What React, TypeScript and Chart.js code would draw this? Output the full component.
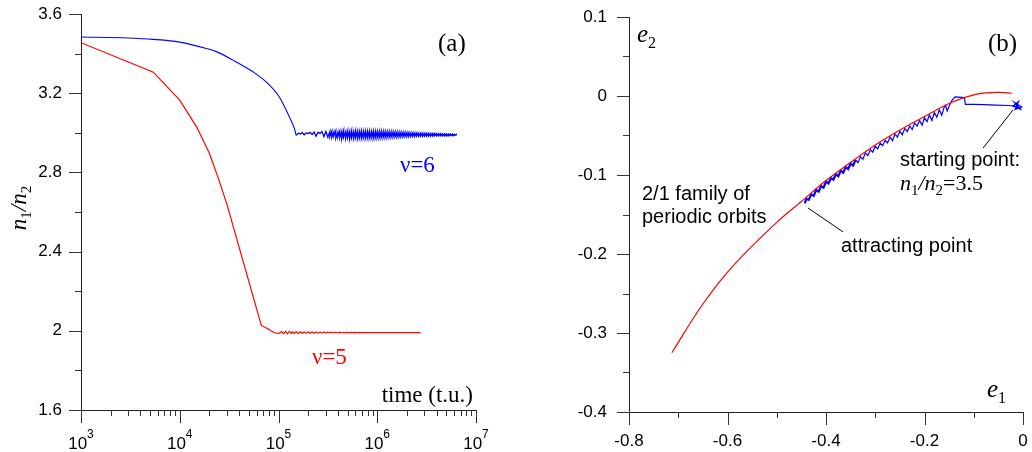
import React, { useEffect, useRef } from "react";
import { Chart, registerables } from "chart.js";

Chart.register(...registerables);

// ---------------- Panel (a): n1/n2 versus time ----------------
// ν=6 : smooth decay
const nu6DecayTime = [1e3, 3e3, 5.4e3, 1e4, 1.86e4, 2.35e4, 3.46e4, 5.5e4, 7.5e4, 1.02e5, 1.29e5, 1.45e5, 1.51e5];
const nu6DecayRatio = [3.484, 3.479, 3.472, 3.458, 3.426, 3.41, 3.367, 3.308, 3.257, 3.181, 3.08, 3.021, 2.987];
// ν=6 : first sparse wiggles
const nu6WiggleTime = [
  1.51e5, 1.585e5, 1.66e5, 1.738e5, 1.82e5, 1.905e5, 1.995e5, 2.089e5, 2.188e5, 2.291e5,
  2.399e5, 2.512e5, 2.63e5, 2.754e5, 2.884e5, 3.02e5, 3.162e5,
];
const nu6WiggleRatio = [
  2.987, 2.998, 2.994, 3.001, 2.99, 2.999, 2.996, 3.002, 2.991, 3.004,
  2.983, 3.003, 2.997, 3.006, 2.98, 3.007, 2.978,
];
// ν=6 : dense oscillation band (upper / lower excursions)
const nu6BandTime = [
  3.311e5, 3.467e5, 3.631e5, 3.802e5, 3.981e5, 4.169e5, 4.365e5, 4.571e5, 4.786e5, 5.012e5,
  5.248e5, 5.495e5, 5.754e5, 6.026e5, 6.31e5, 6.607e5, 6.918e5, 7.244e5, 7.586e5, 7.943e5,
  8.318e5, 8.71e5, 9.12e5, 9.55e5, 1e6, 1.047e6, 1.096e6, 1.148e6, 1.202e6, 1.259e6,
  1.318e6, 1.38e6, 1.445e6, 1.514e6, 1.585e6, 1.66e6, 1.738e6, 1.82e6, 1.905e6, 1.995e6,
  2.089e6, 2.188e6, 2.291e6, 2.399e6, 2.512e6, 2.63e6, 2.754e6, 2.884e6, 3.02e6, 3.162e6,
  3.311e6, 3.467e6, 3.631e6, 3.802e6, 3.981e6, 4.169e6, 4.365e6, 4.571e6, 4.786e6, 5.012e6,
  5.248e6, 5.495e6, 5.754e6, 6.026e6, 6.31e6,
];
const nu6BandHigh = [
  3.006, 3.009, 3.004, 3.01, 3.002, 3.009, 3.006, 3.011, 3.005, 3.009,
  3.007, 3.01, 3.006, 3.009, 3.008, 3.007, 3.009, 3.006, 3.008, 3.007,
  3.008, 3.006, 3.008, 3.007, 3.007, 3.006, 3.007, 3.006, 3.006, 3.005,
  3.006, 3.005, 3.005, 3.004, 3.004, 3.003, 3.003, 3.002, 3.002, 3.001,
  3.001, 3.0, 3.0, 2.999, 2.999, 2.998, 2.998, 2.998, 2.997, 2.997,
  2.997, 2.996, 2.996, 2.996, 2.995, 2.995, 2.995, 2.994, 2.994, 2.994,
  2.993, 2.993, 2.993, 2.992, 2.992,
];
const nu6BandLow = [
  2.98, 2.976, 2.983, 2.972, 2.979, 2.974, 2.97, 2.977, 2.972, 2.975,
  2.969, 2.974, 2.972, 2.975, 2.971, 2.974, 2.972, 2.975, 2.973, 2.974,
  2.973, 2.975, 2.973, 2.974, 2.974, 2.975, 2.975, 2.976, 2.976, 2.977,
  2.977, 2.978, 2.978, 2.979, 2.979, 2.98, 2.98, 2.98, 2.981, 2.981,
  2.981, 2.982, 2.982, 2.982, 2.983, 2.983, 2.983, 2.983, 2.984, 2.984,
  2.984, 2.984, 2.984, 2.985, 2.985, 2.985, 2.985, 2.985, 2.985, 2.985,
  2.985, 2.986, 2.986, 2.986, 2.986,
];

// ν=5
const nu5Time = [
  1e3, 5.4e3, 1e4, 1.48e4, 2e4, 2.5e4, 3e4, 6.7e4, 7.8e4, 9.1e4,
  1e5, 1.047e5, 1.072e5, 1.12e5, 1.148e5, 1.175e5, 1.23e5, 1.259e5, 1.29e5, 1.35e5,
  1.38e5, 1.445e5, 1.51e5, 1.585e5, 1.66e5, 1.738e5, 1.82e5, 1.905e5, 1.995e5, 2.089e5,
  2.188e5, 2.291e5, 2.399e5, 2.512e5, 2.63e5, 2.754e5, 2.884e5, 3.02e5, 3.162e5, 3.311e5,
  3.467e5, 3.631e5, 3.802e5, 3.981e5, 4.169e5, 4.365e5, 4.571e5, 4.786e5, 5.012e5, 5.248e5,
  5.495e5, 5.754e5, 6.026e5, 6.31e5, 6.607e5, 6.918e5, 7.244e5, 7.586e5, 2.75e6,
];
const nu5Ratio = [
  3.455, 3.306, 3.165, 3.03, 2.895, 2.76, 2.64, 2.027, 2.01, 1.99,
  1.987, 1.99, 1.997, 1.986, 1.99, 1.998, 1.985, 1.992, 1.997, 1.986,
  1.995, 1.987, 1.996, 1.987, 1.995, 1.988, 1.994, 1.987, 1.995, 1.988,
  1.994, 1.988, 1.994, 1.988, 1.993, 1.988, 1.994, 1.989, 1.993, 1.989,
  1.993, 1.989, 1.993, 1.989, 1.993, 1.989, 1.992, 1.99, 1.992, 1.99,
  1.992, 1.99, 1.992, 1.99, 1.992, 1.99, 1.992, 1.991, 1.991,
];

const aXMajor = [1e3, 1e4, 1e5, 1e6, 1e7];
const aXMinor = [
  2e3, 3e3, 4e3, 5e3, 6e3, 7e3, 8e3, 9e3,
  2e4, 3e4, 4e4, 5e4, 6e4, 7e4, 8e4, 9e4,
  2e5, 3e5, 4e5, 5e5, 6e5, 7e5, 8e5, 9e5,
  2e6, 3e6, 4e6, 5e6, 6e6, 7e6, 8e6, 9e6,
];
const aYMajor = [1.6, 2.0, 2.4, 2.8, 3.2, 3.6];
const aYMinor = [1.8, 2.2, 2.6, 3.0, 3.4];

// ---------------- Panel (b): e1-e2 plane ----------------
const familyE1 = [-0.713, -0.656, -0.602, -0.5, -0.45, -0.4, -0.35, -0.3, -0.25, -0.2, -0.15, -0.1, -0.05, -0.023];
const familyE2 = [-0.325, -0.2687, -0.2245, -0.16, -0.1335, -0.107, -0.084, -0.062, -0.043, -0.026, -0.0095, 0.0015, 0.0045, 0.0035];

const trajE1 = [
  -0.012, -0.004, -0.018, -0.002, -0.016, -0.009, -0.021, -0.006, -0.014, -0.01,
  -0.03, -0.055, -0.08, -0.1, -0.117, -0.119, -0.138, -0.145, -0.15, -0.154,
  -0.157, -0.16, -0.165, -0.17, -0.175, -0.18, -0.185, -0.19, -0.195, -0.2,
  -0.205, -0.21, -0.215, -0.22, -0.225, -0.23, -0.235, -0.24, -0.245, -0.25,
  -0.255, -0.26, -0.265, -0.27, -0.275, -0.28, -0.285, -0.29, -0.295, -0.3,
  -0.305, -0.31, -0.315, -0.32, -0.325, -0.33, -0.335, -0.34, -0.345, -0.35,
  -0.355, -0.36, -0.365, -0.37, -0.375, -0.38, -0.385, -0.39, -0.395, -0.4,
  -0.405, -0.41, -0.415, -0.42, -0.425, -0.43, -0.435, -0.44, -0.443,
];
const trajE2 = [
  -0.012, -0.018, -0.008, -0.014, -0.017, -0.007, -0.013, -0.016, -0.01, -0.013,
  -0.012, -0.0115, -0.011, -0.0105, -0.0105, -0.002, -0.001, -0.006, -0.013, -0.019,
  -0.012, -0.014, -0.0245, -0.0175, -0.027, -0.021, -0.031, -0.024, -0.0325, -0.0275,
  -0.037, -0.031, -0.038, -0.034, -0.0425, -0.038, -0.045, -0.041, -0.049, -0.0445,
  -0.052, -0.048, -0.0565, -0.052, -0.0595, -0.056, -0.063, -0.0595, -0.067, -0.0635,
  -0.071, -0.068, -0.0755, -0.072, -0.08, -0.077, -0.0845, -0.081, -0.088, -0.0855,
  -0.0925, -0.09, -0.097, -0.0945, -0.1015, -0.099, -0.106, -0.104, -0.1105, -0.1085,
  -0.116, -0.114, -0.121, -0.119, -0.1265, -0.1245, -0.1315, -0.13, -0.136,
];

const startPointerE1 = [-0.0203, -0.081];
const startPointerE2 = [-0.0177, -0.0658];
const attractPointerE1 = [-0.4365, -0.3655];
const attractPointerE2 = [-0.1418, -0.172];

const bXMajor = [-0.8, -0.6, -0.4, -0.2, 0];
const bXMinor = [-0.7, -0.5, -0.3, -0.1];
const bYMajor = [-0.4, -0.3, -0.2, -0.1, 0, 0.1];
const bYMinor = [-0.35, -0.25, -0.15, -0.05, 0.05];

// ---------------- helpers ----------------
const SANS = "'Liberation Sans', Arial, sans-serif";
const SERIF = "'Liberation Serif', 'Times New Roman', serif";
const RED = "rgb(255,0,0)";
const BLUE = "rgb(0,0,255)";

type Part = { text: string; font: string; dy?: number };

function partsWidth(ctx: CanvasRenderingContext2D, parts: Part[]) {
  let w = 0;
  for (const p of parts) {
    ctx.font = p.font;
    w += ctx.measureText(p.text).width;
  }
  return w;
}

function drawParts(ctx: CanvasRenderingContext2D, parts: Part[], x: number, y: number) {
  let cx = x;
  ctx.textAlign = "left";
  ctx.textBaseline = "alphabetic";
  for (const p of parts) {
    ctx.font = p.font;
    ctx.fillText(p.text, cx, y + (p.dy || 0));
    cx += ctx.measureText(p.text).width;
  }
}

function drawTicks(ctx: CanvasRenderingContext2D, chart: any, major: number[], minor: number[], axis: "x" | "y", majorLen: number, minorLen: number) {
  const area = chart.chartArea;
  const scale = chart.scales[axis];
  ctx.save();
  ctx.strokeStyle = "#333";
  ctx.lineWidth = 1;
  ctx.beginPath();
  const put = (v: number, len: number) => {
    const p = Math.round(scale.getPixelForValue(v)) + 0.5;
    if (axis === "x") {
      ctx.moveTo(p, area.bottom);
      ctx.lineTo(p, area.bottom + len);
    } else {
      ctx.moveTo(area.left, p);
      ctx.lineTo(area.left - len, p);
    }
  };
  major.forEach((v) => put(v, majorLen));
  minor.forEach((v) => put(v, minorLen));
  ctx.stroke();
  ctx.restore();
}

function fmt1(v: number) {
  const r = Math.round(v * 10) / 10;
  return r === 0 ? "0" : String(r);
}

function pairs(xs: number[], ys: number[]) {
  return xs.map((x, i) => ({ x, y: ys[i] }));
}

function bandPairs(ts: number[], hi: number[], lo: number[]) {
  const out: { x: number; y: number }[] = [];
  ts.forEach((t, i) => {
    out.push({ x: t, y: hi[i] });
    out.push({ x: t, y: lo[i] });
  });
  return out;
}

// invisible tick marks used only to offset the labels from the axis line
const offsetGrid = (len: number) => ({
  display: true,
  drawOnChartArea: false,
  drawTicks: true,
  tickLength: len,
  color: "rgba(0,0,0,0)",
});

export default function App() {
  const refA = useRef<HTMLCanvasElement>(null);
  const refB = useRef<HTMLCanvasElement>(null);

  useEffect(() => {
    const overlayA = {
      id: "overlayA",
      afterDraw(chart: any) {
        const ctx: CanvasRenderingContext2D = chart.ctx;
        drawTicks(ctx, chart, aXMajor, aXMinor, "x", 13, 6);
        drawTicks(ctx, chart, aYMajor, aYMinor, "y", 12, 6);
        ctx.save();
        ctx.fillStyle = "#000";
        const xs = chart.scales.x;
        aXMajor.forEach((v) => {
          const px = xs.getPixelForValue(v);
          const parts: Part[] = [
            { text: "10", font: `17px ${SANS}` },
            { text: String(Math.round(Math.log10(v))), font: `12px ${SANS}`, dy: -11 },
          ];
          const w = partsWidth(ctx, parts);
          drawParts(ctx, parts, px - w / 2, 449);
        });
        drawParts(ctx, [{ text: "(a)", font: `25px ${SERIF}` }], 438, 51);
        ctx.fillStyle = BLUE;
        drawParts(ctx, [{ text: "ν=6", font: `23px ${SERIF}` }], 400, 172);
        ctx.fillStyle = RED;
        drawParts(ctx, [{ text: "ν=5", font: `23px ${SERIF}` }], 312, 364);
        ctx.fillStyle = "#000";
        const t: Part[] = [{ text: "time (t.u.)", font: `23px ${SERIF}` }];
        drawParts(ctx, t, 473 - partsWidth(ctx, t), 402);
        const yt: Part[] = [
          { text: "n", font: `italic 23px ${SERIF}` },
          { text: "1", font: `15px ${SERIF}`, dy: 5 },
          { text: "/", font: `italic 23px ${SERIF}` },
          { text: "n", font: `italic 23px ${SERIF}` },
          { text: "2", font: `15px ${SERIF}`, dy: 5 },
        ];
        ctx.translate(26, 208);
        ctx.rotate(-Math.PI / 2);
        drawParts(ctx, yt, -partsWidth(ctx, yt) / 2, 0);
        ctx.restore();
      },
    };

    const overlayB = {
      id: "overlayB",
      afterDraw(chart: any) {
        const ctx: CanvasRenderingContext2D = chart.ctx;
        drawTicks(ctx, chart, bXMajor, bXMinor, "x", 13, 6);
        drawTicks(ctx, chart, bYMajor, bYMinor, "y", 12, 6);
        const xs = chart.scales.x;
        const ys = chart.scales.y;
        ctx.save();
        ctx.strokeStyle = "#000";
        ctx.lineWidth = 1;
        ctx.beginPath();
        ctx.moveTo(xs.getPixelForValue(startPointerE1[0]), ys.getPixelForValue(startPointerE2[0]));
        ctx.lineTo(xs.getPixelForValue(startPointerE1[1]), ys.getPixelForValue(startPointerE2[1]));
        ctx.moveTo(xs.getPixelForValue(attractPointerE1[0]), ys.getPixelForValue(attractPointerE2[0]));
        ctx.lineTo(xs.getPixelForValue(attractPointerE1[1]), ys.getPixelForValue(attractPointerE2[1]));
        ctx.stroke();
        ctx.fillStyle = "#000";
        drawParts(ctx, [{ text: "(b)", font: `25px ${SERIF}` }], 478, 51);
        drawParts(ctx, [
          { text: "e", font: `italic 25px ${SERIF}` },
          { text: "2", font: `16px ${SERIF}`, dy: 6 },
        ], 127, 42);
        drawParts(ctx, [
          { text: "e", font: `italic 25px ${SERIF}` },
          { text: "1", font: `16px ${SERIF}`, dy: 6 },
        ], 477, 397);
        drawParts(ctx, [{ text: "starting point:", font: `20px ${SANS}` }], 390, 166);
        drawParts(ctx, [
          { text: "n", font: `italic 22px ${SERIF}` },
          { text: "1", font: `15px ${SERIF}`, dy: 5 },
          { text: "/", font: `italic 22px ${SERIF}` },
          { text: "n", font: `italic 22px ${SERIF}` },
          { text: "2", font: `15px ${SERIF}`, dy: 5 },
          { text: "=3.5", font: `22px ${SERIF}` },
        ], 390, 190);
        drawParts(ctx, [{ text: "2/1 family of", font: `20px ${SANS}` }], 132, 200);
        drawParts(ctx, [{ text: "periodic orbits", font: `20px ${SANS}` }], 132, 223);
        drawParts(ctx, [{ text: "attracting point", font: `20px ${SANS}` }], 331, 252);
        ctx.restore();
      },
    };

    const tickFont = { family: SANS, size: 17 };
    const lineBase = { pointRadius: 0, fill: false, tension: 0 };

    const chartA = new Chart(refA.current as HTMLCanvasElement, {
      type: "line",
      data: {
        datasets: [
          {
            ...lineBase,
            data: pairs(nu6DecayTime, nu6DecayRatio),
            borderColor: BLUE,
            borderWidth: 1.1,
            cubicInterpolationMode: "monotone",
          },
          {
            ...lineBase,
            data: [...pairs(nu6WiggleTime, nu6WiggleRatio), ...bandPairs(nu6BandTime, nu6BandHigh, nu6BandLow)],
            borderColor: BLUE,
            borderWidth: 1.3,
          },
          {
            ...lineBase,
            data: pairs(nu5Time, nu5Ratio),
            borderColor: RED,
            borderWidth: 1.2,
          },
        ],
      },
      options: {
        animation: false,
        responsive: false,
        maintainAspectRatio: false,
        events: [],
        layout: { padding: { left: 0, right: 24, top: 14, bottom: 0 } },
        plugins: { legend: { display: false }, tooltip: { enabled: false } },
        scales: {
          x: {
            type: "logarithmic",
            min: 1e3,
            max: 1e7,
            grid: { display: false, drawTicks: false },
            border: { display: true, color: "#222", width: 1 },
            ticks: { display: false },
            afterFit: (s: any) => {
              s.height = 42;
            },
          },
          y: {
            type: "linear",
            min: 1.6,
            max: 3.6,
            grid: offsetGrid(19),
            border: { display: true, color: "#222", width: 1 },
            ticks: { stepSize: 0.4, font: tickFont, color: "#000", padding: 0, callback: (v: any) => fmt1(Number(v)) },
            afterFit: (s: any) => {
              s.width = 81;
            },
          },
        },
      } as any,
      plugins: [overlayA],
    });

    const chartB = new Chart(refB.current as HTMLCanvasElement, {
      type: "line",
      data: {
        datasets: [
          {
            ...lineBase,
            data: pairs(familyE1, familyE2),
            borderColor: RED,
            borderWidth: 1.2,
            cubicInterpolationMode: "monotone",
          },
          {
            ...lineBase,
            data: pairs(trajE1, trajE2),
            borderColor: BLUE,
            borderWidth: 1.2,
            segment: {
              borderWidth: (c: any) => (c.p0.parsed.x <= -0.34 ? 2.2 : 1.2),
            },
          },
        ],
      },
      options: {
        animation: false,
        responsive: false,
        maintainAspectRatio: false,
        events: [],
        layout: { padding: { left: 0, right: 9, top: 17, bottom: 0 } },
        plugins: { legend: { display: false }, tooltip: { enabled: false } },
        scales: {
          x: {
            type: "linear",
            min: -0.8,
            max: 0,
            grid: offsetGrid(19),
            border: { display: true, color: "#222", width: 1 },
            ticks: { stepSize: 0.2, font: tickFont, color: "#000", padding: 0, maxRotation: 0, callback: (v: any) => fmt1(Number(v)) },
            afterFit: (s: any) => {
              s.height = 40;
            },
          },
          y: {
            type: "linear",
            min: -0.4,
            max: 0.1,
            grid: offsetGrid(22),
            border: { display: true, color: "#222", width: 1 },
            ticks: { stepSize: 0.1, font: tickFont, color: "#000", padding: 0, callback: (v: any) => fmt1(Number(v)) },
            afterFit: (s: any) => {
              s.width = 119;
            },
          },
        },
      } as any,
      plugins: [overlayB],
    });

    return () => {
      chartA.destroy();
      chartB.destroy();
    };
  }, []);

  return (
    <div style={{ position: "fixed", left: 0, top: 0, width: 1032, height: 452, background: "#fff", overflow: "hidden" }}>
      <canvas ref={refA} width={500} height={452} style={{ position: "absolute", left: 0, top: 0 }} />
      <canvas ref={refB} width={522} height={452} style={{ position: "absolute", left: 510, top: 0 }} />
    </div>
  );
}
